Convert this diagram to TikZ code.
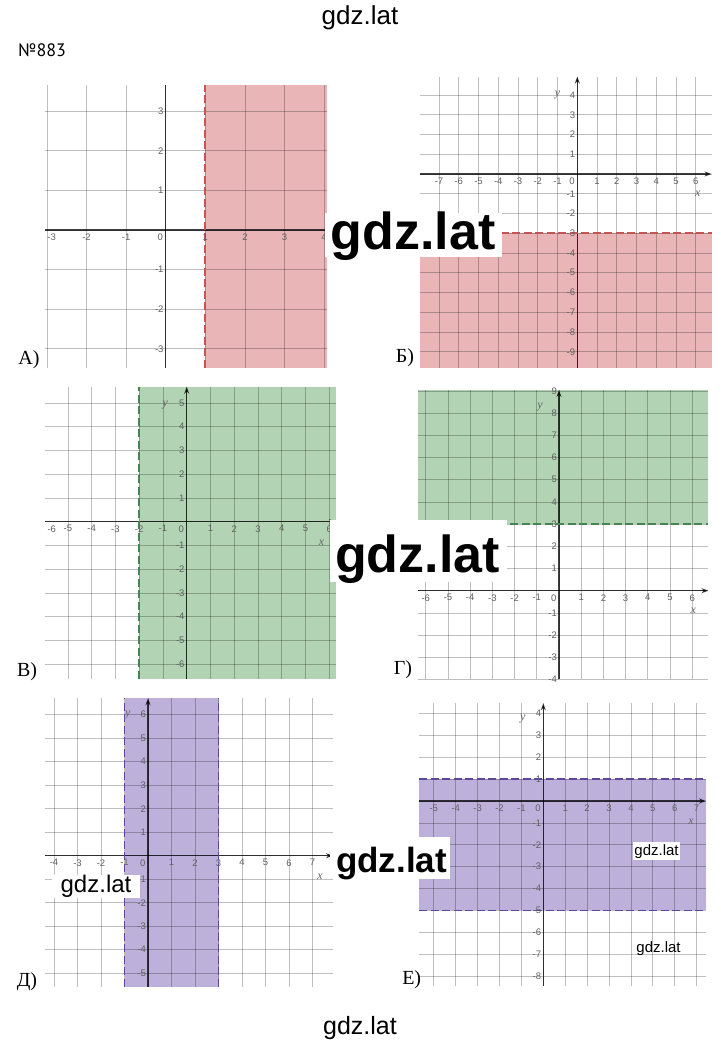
\documentclass[tikz,border=0pt]{standalone}
\usepackage{fontspec}
\setmainfont{Liberation Serif}
\newfontfamily\wmfont{Liberation Sans}
\newfontfamily\tickfont{Liberation Sans}
\newfontfamily\numfont{PT Sans}
\usetikzlibrary{arrows.meta}
\definecolor{pinkF}{RGB}{233,181,182}
\definecolor{pinkD}{RGB}{195,85,85}
\definecolor{greenF}{RGB}{178,212,180}
\definecolor{greenD}{RGB}{70,132,82}
\definecolor{purpF}{RGB}{189,177,220}
\definecolor{purpD}{RGB}{92,72,155}
\newcommand\gridpanel[8]{%
  \foreach \i in {#5,...,#6} \draw[gridl] (\i,#3) -- (\i,#4);
  \foreach \j in {#7,...,#8} \draw[gridl] (#1,\j) -- (#2,\j);
}
\tikzset{
  gridl/.style={black, opacity=0.25, line width=0.7pt},
  axisl/.style={black, opacity=0.75, line width=1.4pt},
  axarrow/.style={axisl, -{Stealth[length=7pt,width=5pt]}},
  tickbase/.style={inner sep=0.5pt, font=\tickfont\fontsize{9.5}{9.5}\selectfont, text=black!62},
  xtick/.style={tickbase, anchor=north, yshift=-3pt},
  ytick/.style={tickbase, anchor=east, xshift=-1.5pt},
  ztick/.style={tickbase, anchor=north east, xshift=-2pt, yshift=-3pt},
  axlab/.style={inner sep=0, font=\itshape\fontsize{12}{12}\selectfont, text=black!60},
  plab/.style={inner sep=0, font=\fontsize{20}{20}\selectfont},
  dline/.style={line width=1.7pt, dash pattern=on 8pt off 3.5pt},
  wmbig/.style={anchor=base, inner sep=0, font=\wmfont\bfseries\fontsize{52}{52}\selectfont},
  wmmid/.style={anchor=base, inner sep=0, font=\wmfont\bfseries\fontsize{35}{35}\selectfont},
  wmreg/.style={anchor=base, inner sep=0, font=\wmfont\fontsize{#1}{#1}\selectfont},
}
\begin{document}
\begin{tikzpicture}[x=1pt,y=1pt]
\useasboundingbox (0,0) rectangle (720,1043);
\fill[white] (0,0) rectangle (720,1043);

% ---------- Panel A ----------
\begin{scope}[shift={(165.7,813)},x=39.6pt,y=39.6pt]
\fill[pinkF] (1,-3.48) rectangle (4.07,3.66);
\gridpanel{-3.05}{4.07}{-3.48}{3.66}{-3}{4}{-3}{3}
\draw[axisl] (-3.05,0) -- (4.07,0);
\draw[axisl] (0,-3.48) -- (0,3.66);
\draw[dline,pinkD] (1,-3.48) -- (1,3.66);
\foreach \i in {-2,-1,1,2,3,4} \node[xtick] at (\i,0) {\i};
\node[xtick] at (-2.88,0) {-3};
\node[ztick] at (0,0) {0};
\foreach \j in {-3,-2,-1,1,2,3} \node[ytick] at (0,\j) {\j};
\end{scope}
\node[plab] (la) at (29,683) {А)};

% ---------- Panel B ----------
\begin{scope}[shift={(577.3,869)},x=19.75pt,y=19.75pt]
\fill[pinkF] (-7.96,-9.8) rectangle (6.8,-3);
\gridpanel{-7.96}{6.8}{-9.8}{4.93}{-7}{6}{-9}{4}
\draw[axarrow] (-7.96,0) -- (6.8,0);
\draw[axarrow] (0,-9.8) -- (0,4.93);
\draw[dline,pinkD] (-7.96,-3) -- (6.8,-3);
\foreach \i in {-7,...,-1,1,2,3,4,5,6} \node[xtick] at (\i,0) {\i};
\node[ztick] at (0,0) {0};
\foreach \j in {-9,...,-1,1,2,3,4} \node[ytick] at (0,\j) {\j};
\node[axlab] at (6.1,-1.0) {x};
\node[axlab] at (-1.0,4.0) {y};
\end{scope}
\node[plab] (lb) at (405,685) {Б)};

% ---------- Panel V ----------
\begin{scope}[shift={(186.7,521.3)},x=23.75pt,y=23.75pt]
\fill[greenF] (-2,-6.62) rectangle (6.29,5.68);
\gridpanel{-5.97}{6.29}{-6.62}{5.68}{-5}{6}{-6}{5}
\draw[axarrow] (-5.97,0) -- (6.29,0);
\draw[axarrow] (0,-6.62) -- (0,5.68);
\draw[dline,greenD] (-2,-6.62) -- (-2,5.68);
\foreach \i in {-5,...,-1,1,2,3,4,5,6} \node[xtick] at (\i,0) {\i};
\node[xtick] at (-5.68,0) {-6};
\node[ztick] at (0,0) {0};
\foreach \j in {-6,...,-1,1,2,3,4,5} \node[ytick] at (0,\j) {\j};
\node[axlab] at (5.68,-0.88) {x};
\node[axlab] at (-0.9,4.9) {y};
\end{scope}
\node[plab] (lv) at (27,371) {В)};

% ---------- Panel G ----------
\begin{scope}[shift={(559,452.3)},x=22.2pt,y=22.2pt]
\fill[greenF] (-6.34,3) rectangle (6.73,9.04);
\gridpanel{-6.34}{6.73}{-3.99}{9.04}{-6}{6}{-4}{9}
\draw[axarrow] (-6.34,0) -- (6.73,0);
\draw[axarrow] (0,-3.99) -- (0,9.04);
\draw[dline,greenD] (-6.34,3) -- (6.73,3);
\foreach \i in {-6,...,-1,1,2,3,4,5,6} \node[xtick] at (\i,0) {\i};
\node[ztick] at (0,0) {0};
\foreach \j in {-4,...,-1,1,2,...,9} \node[ytick] at (0,\j) {\j};
\node[axlab] at (6.05,-0.91) {x};
\node[axlab] at (-0.86,8.29) {y};
\end{scope}
\node[plab] (lg) at (403,373) {Г)};

% ---------- Panel D ----------
\begin{scope}[shift={(148,187.3)},x=23.5pt,y=23.5pt]
\fill[purpF] (-1,-5.57) rectangle (3,6.7);
\gridpanel{-4.38}{7.87}{-5.57}{6.7}{-4}{7}{-5}{6}
\draw[axarrow] (-4.38,0) -- (7.87,0);
\draw[axarrow] (0,-5.57) -- (0,6.7);
\draw[dline,purpD] (-1,-5.57) -- (-1,6.7);
\draw[dline,purpD] (3,-5.57) -- (3,6.7);
\foreach \i in {-4,...,-1,1,2,...,7} \node[xtick] at (\i,0) {\i};
\node[ztick] at (0,0) {0};
\foreach \j in {-5,...,-1,1,2,...,6} \node[ytick] at (0,\j) {\j};
\node[axlab] at (7.32,-0.89) {x};
\node[axlab] at (-0.86,5.99) {y};
\end{scope}
\node[plab] (ld) at (27,61.3) {Д)};

% ---------- Panel E ----------
\begin{scope}[shift={(543.3,242)},x=21.9pt,y=21.9pt]
\fill[purpF] (-5.66,-5) rectangle (7.43,1);
\gridpanel{-5.66}{7.43}{-8.45}{4.46}{-5}{7}{-8}{4}
\draw[axarrow] (-5.66,0) -- (7.43,0);
\draw[axarrow] (0,-8.45) -- (0,4.46);
\draw[dline,purpD] (-5.66,1) -- (7.43,1);
\draw[dline,purpD] (-5.66,-5) -- (7.43,-5);
\foreach \i in {-5,...,-1,1,2,...,7} \node[xtick] at (\i,0) {\i};
\node[ztick] at (0,0) {0};
\foreach \j in {-8,...,-1,1,2,3,4} \node[ytick] at (0,\j) {\j};
\node[axlab] at (6.74,-0.95) {x};
\node[axlab] at (-0.94,3.74) {y};
\end{scope}
\node[plab] (le) at (411.7,63) {Е)};

% ---------- watermarks ----------
\fill[white] (325,786.3) rectangle (501.7,830);
\node[wmbig] (w1) at (413.3,793) {gdz.lat};
\fill[white] (330,461) rectangle (506.7,523);
\node[wmbig] (w2) at (417.5,470) {gdz.lat};
\fill[white] (330,164) rectangle (450,206);
\node[wmmid] (w3) at (391.5,170.3) {gdz.lat};
\fill[white] (51.7,145) rectangle (140,168);
\node[wmreg=24] (w4) at (96,150) {gdz.lat};
\fill[white] (633,183) rectangle (680,201);
\node[wmreg=15] (w5) at (656.5,187) {gdz.lat};
\node[wmreg=15] (w6) at (658.5,90) {gdz.lat};

\node[wmreg=26] (top) at (360,1018) {gdz.lat};
\node[anchor=base west, inner sep=0, font=\numfont\fontsize{18}{18}\selectfont] (num) at (18,986) {№883};
\node[wmreg=25] (bot) at (360,9) {gdz.lat};
\end{tikzpicture}
\end{document}
